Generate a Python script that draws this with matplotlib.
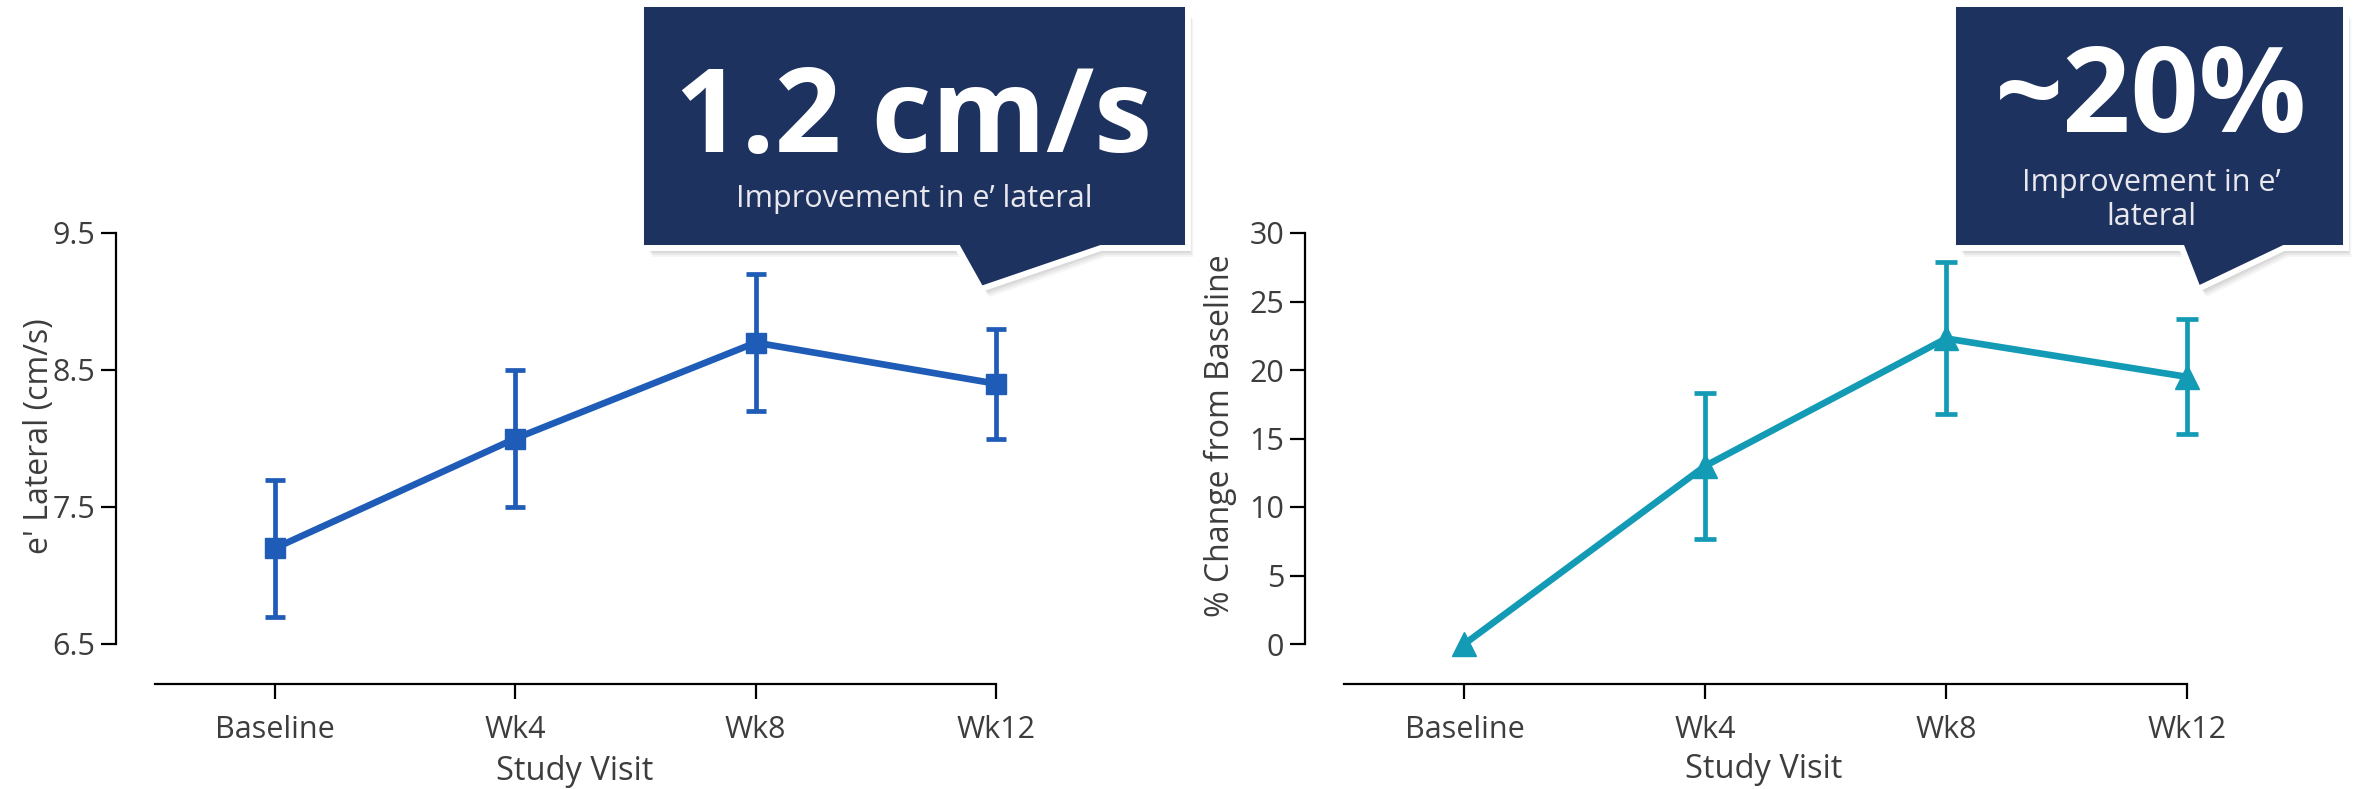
import numpy as np
import matplotlib.pyplot as plt
from matplotlib.patches import Polygon

plt.rcParams['font.family'] = ['Open Sans', 'DejaVu Sans']

# data
visits = ['Baseline', 'Wk4', 'Wk8', 'Wk12']
e_lateral = [7.2, 8.0, 8.7, 8.4]
e_low = [6.7, 7.5, 8.2, 8.0]
e_high = [7.7, 8.5, 9.2, 8.8]
pct_change = [0.0, 13.0, 22.3, 19.5]
pct_low = [0.0, 7.7, 16.8, 15.3]
pct_high = [0.0, 18.3, 27.9, 23.7]
left_yticks = [6.5, 7.5, 8.5, 9.5]
right_yticks = [0, 5, 10, 15, 20, 25, 30]

W, H = 2358, 789
blue = '#1f5cb8'
teal = '#139bb6'
navy = '#1e325f'
txt = '#3d3d3d'

fig = plt.figure(figsize=(W / 100, H / 100), dpi=100)


def fx(x):
    return x / W


def fy(y):
    return 1 - y / H


def style_axes(ax, ylim, yticks, yfmt):
    x = np.arange(len(visits))
    ax.set_xlim(-0.5, 3)
    ax.set_ylim(*ylim)
    ax.set_xticks(x)
    ax.set_xticklabels(visits)
    ax.set_yticks(yticks)
    ax.set_yticklabels([yfmt(v) for v in yticks])
    for s in ['top', 'right']:
        ax.spines[s].set_visible(False)
    ax.spines['left'].set_position(('outward', 28))
    ax.spines['bottom'].set_position(('outward', 29))
    for s in ['left', 'bottom']:
        ax.spines[s].set_linewidth(1.6)
    ax.tick_params(axis='both', length=11, width=1.6, labelsize=22, labelcolor=txt, pad=4)
    ax.tick_params(axis='x', pad=11)


x = np.arange(len(visits))

# left panel
ax1 = fig.add_axes([fx(155), fy(644), (996 - 155) / W, (644 - 233) / H])
err1 = [np.subtract(e_lateral, e_low), np.subtract(e_high, e_lateral)]
ax1.errorbar(x, e_lateral, yerr=err1, fmt='none', ecolor=blue, elinewidth=3.4,
             capsize=7.5, capthick=3.4, clip_on=False)
ax1.plot(x, e_lateral, color=blue, lw=4.8, marker='s', ms=14, clip_on=False, zorder=3)
style_axes(ax1, (6.5, 9.5), left_yticks, lambda v: f'{v:.1f}')

# right panel
ax2 = fig.add_axes([fx(1344), fy(644), (2187 - 1344) / W, (644 - 233) / H])
err2 = [np.subtract(pct_change, pct_low), np.subtract(pct_high, pct_change)]
ax2.errorbar(x[1:], pct_change[1:], yerr=[err2[0][1:], err2[1][1:]], fmt='none',
             ecolor=teal, elinewidth=3.4, capsize=8, capthick=3.4, clip_on=False)
ax2.plot(x, pct_change, color=teal, lw=4.8, marker='^', ms=17, clip_on=False, zorder=3)
style_axes(ax2, (0, 30), right_yticks, lambda v: f'{v:d}')

# axis titles
fig.text(fx(575), fy(771), 'Study Visit', ha='center', va='center', fontsize=23.5, color=txt)
fig.text(fx(1764), fy(770), 'Study Visit', ha='center', va='center', fontsize=23.5, color=txt)
fig.text(fx(40), fy(436), "e' Lateral (cm/s)", ha='center', va='center', rotation=90,
         fontsize=23, color=txt)
fig.text(fx(1220), fy(436), '% Change from Baseline', ha='center', va='center', rotation=90,
         fontsize=23, color=txt)


def callout(x0, x1, y0, y1, tail):
    (ta, tip, tb) = tail
    pts = [(x0, y0), (x1, y0), (x1, y1), (tb, y1), tip, (ta, y1), (x0, y1)]
    for k, a in [(12, 0.04), (10, 0.05), (8, 0.06), (6, 0.08), (4, 0.10)]:
        sh = [(fx(px + k * 0.7), fy(py + k)) for px, py in pts]
        fig.patches.append(Polygon(sh, closed=True, transform=fig.transFigure,
                                   facecolor='black', edgecolor='none', alpha=a, zorder=5))
    # outline drawn 3 px outside the navy area so a 6 px white border shows
    out = [(x0 - 3, y0 - 3), (x1 + 3, y0 - 3), (x1 + 3, y1 + 3), (tb + 4, y1 + 3),
           (tip[0], tip[1] + 4), (ta - 3, y1 + 3), (x0 - 3, y1 + 3)]
    poly = [(fx(px), fy(py)) for px, py in out]
    fig.patches.append(Polygon(poly, closed=True, transform=fig.transFigure,
                               facecolor=navy, edgecolor='white', lw=4.3, zorder=6,
                               joinstyle='miter'))


callout(644, 1185, 7, 245, (961, (981, 285), 1097))
fig.text(fx(914), fy(152), '1.2 cm/s', ha='center', va='baseline', fontsize=84,
         fontweight='bold', color='white', zorder=7)
fig.text(fx(914), fy(207), 'Improvement in e\u2019 lateral', ha='center', va='baseline',
         fontsize=22, color='#e8e8ee', zorder=7)

callout(1956, 2343, 7, 245, (2185, (2198, 285), 2280))
fig.text(fx(2151), fy(132), '~20%', ha='center', va='baseline', fontsize=86,
         fontweight='bold', color='white', zorder=7)
fig.text(fx(2151), fy(191), 'Improvement in e\u2019', ha='center', va='baseline',
         fontsize=22, color='#e8e8ee', zorder=7)
fig.text(fx(2151), fy(225), 'lateral', ha='center', va='baseline',
         fontsize=22, color='#e8e8ee', zorder=7)

fig.savefig('out.png', dpi=100)
